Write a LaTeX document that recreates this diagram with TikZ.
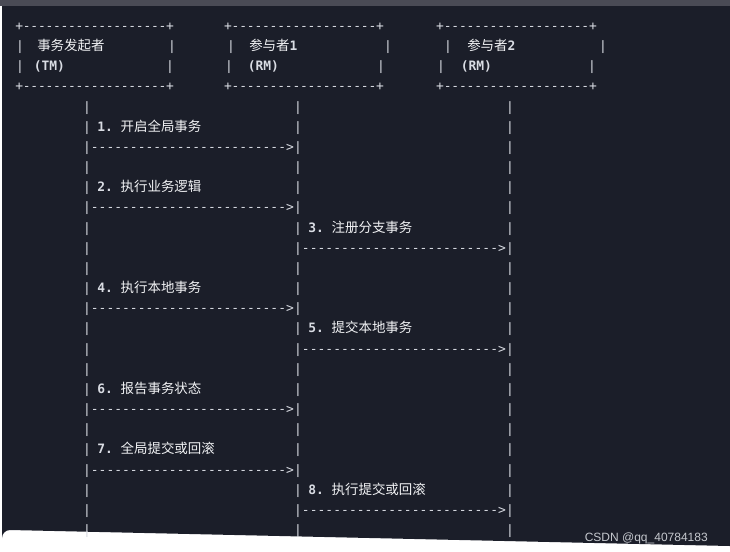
\documentclass[tikz,border=0pt]{standalone}
\usepackage{fontspec}
\setmonofont{DejaVu Sans Mono}
\newfontfamily\cjkfont{Noto Sans CJK SC}
\newfontfamily\wmfont{Liberation Sans}
\definecolor{bg}{HTML}{1B1E29}
\definecolor{topbar}{HTML}{4A4B55}
\definecolor{fg}{HTML}{D9DCE3}
\definecolor{cjkfg}{HTML}{F2F3F5}
\definecolor{wm}{HTML}{C5C8CE}
\tikzset{
  ch/.style={inner sep=0pt, anchor=base, text=fg, font=\ttfamily\fontsize{9.7}{12}\selectfont},
  lbl/.style={inner sep=0pt, anchor=base west, text=fg, font=\ttfamily\bfseries\fontsize{9.7}{12}\selectfont},
  wmark/.style={inner sep=0pt, anchor=base east, text=wm, font=\wmfont\fontsize{9}{11}\selectfont},
}
\newcommand\cj[1]{{\cjkfont\mdseries\fontsize{10.1}{12}\selectfont\color{cjkfg}#1}}
\newcommand\rowbase{6.5}
% box border: #1 name, #2 left x, #3 right x, #4 row
\newcommand\boxline[4]{%
  \pgfmathsetmacro\by{24+(#4-1)*20.16+\rowbase}%
  \node[ch] (#1l) at (#2,\by) {+};
  \node[ch] (#1r) at (#3,\by) {+};
  \foreach \i in {1,...,19} \node[ch] (#1d\i) at ({#2+(#3-#2)*\i/20},\by) {-};
}
% arrow: #1 name, #2 from x, #3 to x, #4 row
\newcommand\arrowline[4]{%
  \pgfmathsetmacro\by{24+(#4-1)*20.16+\rowbase}%
  \node[ch] (#1h) at ({#3-8},\by) {>};
  \foreach \i in {1,...,25} \node[ch] (#1d\i) at ({#2+(#3-8-#2)*\i/26},\by) {-};
}
% label: #1 name, #2 pipe x, #3 row, #4 number, #5 text
\newcommand\msg[5]{%
  \pgfmathsetmacro\by{24+(#3-1)*20.16+\rowbase}%
  \node[lbl] (#1) at ({#2+10},\by) {#4.\ \cj{#5}};
}
\begin{document}
\begin{tikzpicture}[x=0.75pt,y=-0.75pt]
\useasboundingbox (0,0) rectangle (730,551);
\fill[white] (0,0) rectangle (730,551);
\fill[topbar] (0,0) rectangle (730,6);
\fill[bg] (730,6) -- (2,6) -- (2,538) arc[start angle=180,end angle=270,radius=8] -- (730,546) -- cycle;

% boxes
\boxline{t1}{19.3}{170}{1}
\boxline{t2}{228}{380}{1}
\boxline{t3}{440}{593}{1}
\boxline{b1}{19.3}{170}{4}
\boxline{b2}{228}{380}{4}
\boxline{b3}{440}{593}{4}

\pgfmathsetmacro\ra{24+\rowbase+20.16}
\pgfmathsetmacro\rb{24+\rowbase+2*20.16}
\node[ch] (p2a) at (20,\ra) {|};
\node[ch] (p2b) at (172,\ra) {|};
\node[ch] (p2c) at (231,\ra) {|};
\node[ch] (p2d) at (388,\ra) {|};
\node[ch] (p2e) at (448,\ra) {|};
\node[ch] (p2f) at (603,\ra) {|};
\node[lbl] (n1) at (37,\ra) {\cj{事务发起者}};
\node[lbl] (n2) at (249,\ra) {\cj{参与者}1};
\node[lbl] (n3) at (467,\ra) {\cj{参与者}2};

\node[ch] (p3a) at (20,\rb) {|};
\node[ch] (p3b) at (170,\rb) {|};
\node[ch] (p3c) at (229,\rb) {|};
\node[ch] (p3d) at (381,\rb) {|};
\node[ch] (p3e) at (441,\rb) {|};
\node[ch] (p3f) at (592,\rb) {|};
\node[lbl] (r1) at (33.5,\rb) {(TM)};
\node[lbl] (r2) at (247.5,\rb) {(RM)};
\node[lbl] (r3) at (460.5,\rb) {(RM)};

% lifelines
\foreach \r in {5,...,26} {
  \pgfmathsetmacro\by{24+(\r-1)*20.16+\rowbase}
  \node[ch] (la\r) at (87,\by) {|};
  \node[ch] (lb\r) at (298,\by) {|};
  \node[ch] (lc\r) at (510,\by) {|};
}

% messages
\msg{m1}{87}{6}{1}{开启全局事务}
\arrowline{a1}{87}{298}{7}
\msg{m2}{87}{9}{2}{执行业务逻辑}
\arrowline{a2}{87}{298}{10}
\msg{m3}{298}{11}{3}{注册分支事务}
\arrowline{a3}{298}{510}{12}
\msg{m4}{87}{14}{4}{执行本地事务}
\arrowline{a4}{87}{298}{15}
\msg{m5}{298}{16}{5}{提交本地事务}
\arrowline{a5}{298}{510}{17}
\msg{m6}{87}{19}{6}{报告事务状态}
\arrowline{a6}{87}{298}{20}
\msg{m7}{87}{22}{7}{全局提交或回滚}
\arrowline{a7}{87}{298}{23}
\msg{m8}{298}{24}{8}{执行提交或回滚}
\arrowline{a8}{298}{510}{25}

\node[wmark] (wm) at (708,541.5) {CSDN @qq\_40784183};
\end{tikzpicture}
\end{document}
